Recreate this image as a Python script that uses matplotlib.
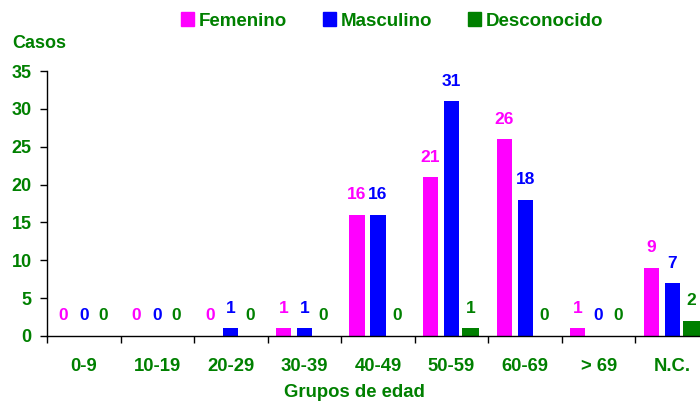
import numpy as np
import matplotlib
matplotlib.use('Agg')
import matplotlib.pyplot as plt
from matplotlib.patches import Patch

plt.rcParams['font.family'] = ['Liberation Sans', 'DejaVu Sans']
plt.rcParams['font.weight'] = 'bold'

grupos = ['0-9', '10-19', '20-29', '30-39', '40-49', '50-59', '60-69', '> 69', 'N.C.']
femenino = [0, 0, 0, 1, 16, 21, 26, 1, 9]
masculino = [0, 0, 1, 1, 16, 31, 18, 0, 7]
desconocido = [0, 0, 0, 0, 0, 1, 0, 0, 2]
series = ['Femenino', 'Masculino', 'Desconocido']

verde = '#008000'
colores = ['#ff00ff', '#0000ff', '#008000']
offsets = [-0.286, 0.0, 0.259]
anchos = [0.205, 0.205, 0.233]

fig = plt.figure(figsize=(7, 4.03), dpi=100)
ax = fig.add_axes([47 / 700, 67 / 403, 662 / 700, 265 / 403])

x = np.arange(len(grupos))
for vals, col, off, w in zip([femenino, masculino, desconocido], colores, offsets, anchos):
    ax.bar(x + off, vals, width=w, color=col, zorder=2)
    for xi, v in zip(x, vals):
        ax.annotate(str(v), (xi + off, v), xytext=(0, 9), textcoords='offset points',
                    ha='center', va='bottom', color=col, fontsize=12.5, fontweight='bold')

ax.set_xlim(-0.5, len(grupos) - 0.5)
ax.set_ylim(0, 35)
ax.set_yticks(np.arange(0, 36, 5))
ax.tick_params(axis='y', direction='out', length=5, width=1, colors='black',
               labelcolor=verde, labelsize=13, pad=6)

# ticks at group boundaries, labels at group centers
ax.set_xticks(np.arange(-0.5, len(grupos), 1))
ax.set_xticklabels([])
ax.set_xticks(x, minor=True)
ax.set_xticklabels(grupos, minor=True)
ax.tick_params(axis='x', which='major', direction='out', length=5, width=1, colors='black')
ax.tick_params(axis='x', which='minor', length=0, labelcolor=verde, labelsize=13.3, pad=16)
for lbl in ax.get_xticklabels(minor=True) + ax.get_yticklabels():
    lbl.set_fontweight('bold')

for s in ['top', 'right']:
    ax.spines[s].set_visible(False)
for s in ['left', 'bottom']:
    ax.spines[s].set_linewidth(1)
    ax.spines[s].set_color('black')

fig.text(12 / 700, 1 - 43 / 403, 'Casos', ha='left', va='center',
         color=verde, fontsize=13, fontweight='bold')
fig.text(354 / 700, 2 / 403, 'Grupos de edad', ha='center', va='bottom',
         color=verde, fontsize=13.3, fontweight='bold')

handles = [Patch(color=c, label=s) for c, s in zip(colores, series)]
leg = fig.legend(handles=handles, ncol=3, loc='center', bbox_to_anchor=(392 / 700, 1 - 21 / 403),
                 frameon=False, handlelength=0.7, handleheight=0.7, handletextpad=0.25,
                 columnspacing=1.9, fontsize=13.5)
for t in leg.get_texts():
    t.set_color(verde)
    t.set_fontweight('bold')

fig.savefig('out.png', dpi=100)
